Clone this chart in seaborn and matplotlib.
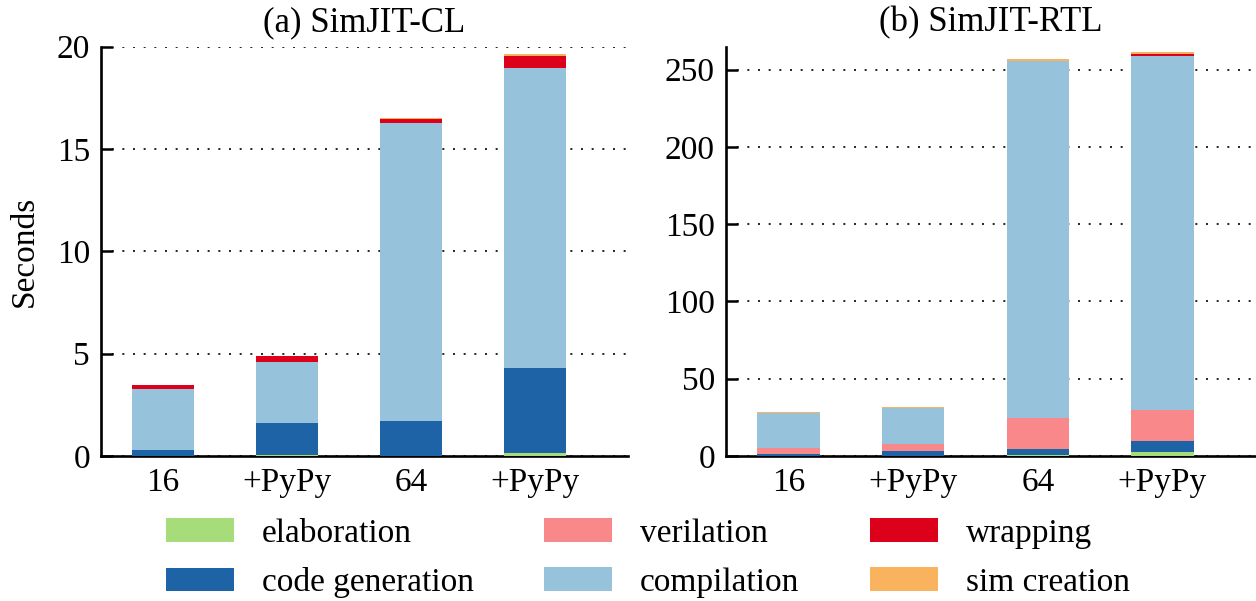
import numpy as np
import pandas as pd
import matplotlib
matplotlib.use("Agg")
import matplotlib.pyplot as plt
from matplotlib.patches import Patch
import seaborn as sns

# Configurations on the x axis and their tick labels
configs = ["16", "16+PyPy", "64", "64+PyPy"]
tick_labels = ["16", "+PyPy", "64", "+PyPy"]

# Compile-time breakdown (seconds), SimJIT-CL
cl_elaboration = [0.02, 0.03, 0.02, 0.15]
cl_codegen = [0.28, 1.58, 1.69, 4.15]
cl_verilation = [0.0, 0.0, 0.0, 0.0]
cl_compilation = [2.97, 2.98, 14.56, 14.65]
cl_wrapping = [0.18, 0.27, 0.19, 0.59]
cl_simcreation = [0.03, 0.04, 0.05, 0.08]

# Compile-time breakdown (seconds), SimJIT-RTL
rtl_elaboration = [0.1, 0.1, 0.5, 2.6]
rtl_codegen = [1.0, 3.3, 4.0, 7.1]
rtl_verilation = [4.3, 4.6, 20.3, 20.3]
rtl_compilation = [22.4, 23.3, 230.9, 228.9]
rtl_wrapping = [0.0, 0.0, 0.0, 1.3]
rtl_simcreation = [0.7, 0.6, 1.2, 1.3]

phases = ["elaboration", "code generation", "verilation",
          "compilation", "wrapping", "sim creation"]
colors = ["#a6dc7a", "#1e63a5", "#f8888a", "#96c3db", "#dc001a", "#f9b25e"]

sns.set_theme(style="white")
plt.rcParams["font.family"] = ["Liberation Serif", "DejaVu Serif"]
plt.rcParams["font.size"] = 24
plt.rcParams["text.color"] = "black"
plt.rcParams["axes.labelcolor"] = "black"
plt.rcParams["xtick.color"] = "black"
plt.rcParams["ytick.color"] = "black"

fig = plt.figure(figsize=(12.56, 6.01), dpi=100)
ax_cl = fig.add_axes([101 / 1256, 1 - 456 / 601, 527 / 1256, 409.5 / 601])
ax_rtl = fig.add_axes([726 / 1256, 1 - 456 / 601, 530 / 1256, 409.5 / 601])


def stacked(ax, series, ylim, yticks, title):
    cum = np.cumsum(np.array(series), axis=0)
    # draw tallest cumulative layer first so lower segments sit on top
    for i in range(len(series) - 1, -1, -1):
        df = pd.DataFrame({"config": configs, "seconds": cum[i]})
        sns.barplot(data=df, x="config", y="seconds", order=configs,
                    color=colors[i], saturation=1, width=0.5,
                    errorbar=None, linewidth=0, ax=ax, zorder=3)
    ax.set_ylim(*ylim)
    ax.set_xlim(-0.5, 3.75)
    ax.set_yticks(yticks)
    ax.set_xticks(range(len(configs)))
    ax.set_xticklabels(tick_labels, fontsize=24)
    ax.tick_params(axis="y", direction="in", length=8.5, width=1.8,
                   pad=8, labelsize=24, colors="black", left=True)
    ax.tick_params(axis="x", length=0, pad=8, labelsize=24, colors="black")
    ax.grid(axis="y", color="black", linestyle=(0, (1.2, 5.2)),
            linewidth=1.2, zorder=0)
    ax.grid(axis="x", visible=False)
    ax.set_axisbelow(True)
    for side in ("top", "right"):
        ax.spines[side].set_visible(False)
    for side in ("left", "bottom"):
        ax.spines[side].set_color("black")
        ax.spines[side].set_linewidth(1.9)
    ax.set_xlabel("")
    ax.set_ylabel("")
    ax.set_title(title, fontsize=25, pad=11, color="black")


stacked(ax_cl,
        [cl_elaboration, cl_codegen, cl_verilation,
         cl_compilation, cl_wrapping, cl_simcreation],
        (0, 20), [0, 5, 10, 15, 20], "(a) SimJIT-CL")
stacked(ax_rtl,
        [rtl_elaboration, rtl_codegen, rtl_verilation,
         rtl_compilation, rtl_wrapping, rtl_simcreation],
        (0, 265), [0, 50, 100, 150, 200, 250], "(b) SimJIT-RTL")

ax_cl.set_ylabel("Seconds", fontsize=24, labelpad=12)

handles = [Patch(facecolor=c, edgecolor="none", label=p)
           for p, c in zip(phases, colors)]
fig.legend(handles=handles, ncol=3, loc="upper left",
           bbox_to_anchor=(166 / 1256, 1 - 518 / 601),
           frameon=False, fontsize=24, handlelength=2.04,
           handleheight=0.72, handletextpad=0.83, columnspacing=2.12,
           labelspacing=0.56, borderpad=0, borderaxespad=0)

fig.savefig("out.png", dpi=100)
